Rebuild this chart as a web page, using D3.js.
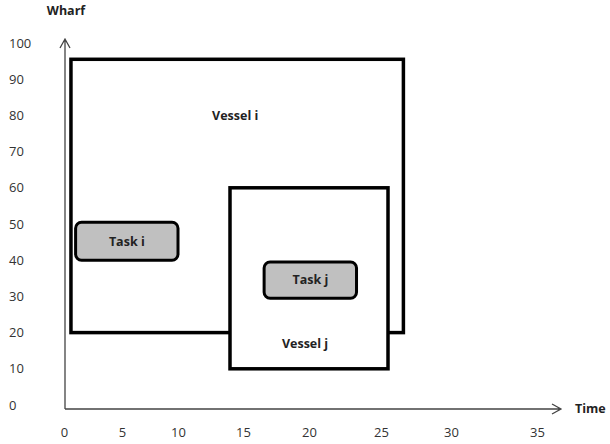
<!DOCTYPE html>
<html>
<head>
<meta charset="utf-8">
<script src="https://cdn.jsdelivr.net/npm/d3@7"></script>
<style>
  body { margin: 0; background: #fff; }
  svg { font-family: "Open Sans", "Liberation Sans", sans-serif; }
</style>
</head>
<body>
<svg id="chart" width="610" height="444"></svg>
<script>
// tick labels on both axes
var xTicks = [0, 5, 10, 15, 20, 25, 30, 35];
var yTicks = [0, 10, 20, 30, 40, 50, 60, 70, 80, 90, 100];

// vessels: time span and wharf span
var vesselNames = ["Vessel i", "Vessel j"];
var vesselTime = [[0.6, 26.6], [14, 25.5]];
var vesselWharf = [[20, 95.5], [10, 60]];
var vesselLabelAt = [[14.4, 80], [19.7, 17]];

// tasks inside the vessels
var taskNames = ["Task i", "Task j"];
var taskTime = [[1, 10], [16.6, 23.3]];
var taskWharf = [[40, 50.5], [29.5, 39.5]];

window.onload = function() {
    var svg = d3.select("#chart");

    // the drawing's time ticks are not evenly spaced, so the scale is piecewise
    var x = d3.scaleLinear()
        .domain(xTicks)
        .range([64, 122, 178, 243, 309, 381, 451, 537]);
    var y = d3.scaleLinear()
        .domain([0, 100])
        .range([405, 43]);

    var x0 = x(0) + 1, y0 = y(0) + 4;

    // x tick labels
    svg.append("g")
        .attr("transform", "translate(0,432)")
        .call(d3.axisBottom(x).tickValues(xTicks).tickSize(0).tickPadding(0))
        .call(function(g) { g.select(".domain").remove(); })
        .selectAll("text")
        .attr("dy", "0.35em")
        .style("font-size", "13px")
        .style("fill", "#333")
        .style("font-family", "Open Sans, sans-serif");

    // y tick labels (left aligned)
    svg.append("g").selectAll("text").data(yTicks)
        .enter().append("text")
        .attr("x", 9)
        .attr("y", function(d) { return y(d); })
        .attr("dy", "0.35em")
        .style("font-size", "13px")
        .style("fill", "#333")
        .text(function(d) { return d; });

    // axis lines with open arrowheads
    var axisCol = "#444";
    svg.append("path")
        .attr("d", "M" + x0 + "," + y0 + "V39M" + (x0 - 5) + ",48L" + x0 + ",39L" + (x0 + 5) + ",48")
        .attr("fill", "none").attr("stroke", axisCol).attr("stroke-width", 1.3);
    svg.append("path")
        .attr("d", "M" + x0 + "," + y0 + "H561M552," + (y0 - 5) + "L561," + y0 + "L552," + (y0 + 5))
        .attr("fill", "none").attr("stroke", axisCol).attr("stroke-width", 1.3);

    svg.append("text")
        .attr("x", 66).attr("y", 15)
        .attr("text-anchor", "middle")
        .style("font-size", "12.5px").style("font-weight", "bold").style("fill", "#222")
        .text("Wharf");
    svg.append("text")
        .attr("x", 575).attr("y", y0 + 4)
        .style("font-size", "12.5px").style("font-weight", "bold").style("fill", "#222")
        .text("Time");

    // vessels
    svg.append("g").selectAll("rect").data(vesselNames)
        .enter().append("rect")
        .attr("x", function(d, i) { return x(vesselTime[i][0]); })
        .attr("y", function(d, i) { return y(vesselWharf[i][1]); })
        .attr("width", function(d, i) { return x(vesselTime[i][1]) - x(vesselTime[i][0]); })
        .attr("height", function(d, i) { return y(vesselWharf[i][0]) - y(vesselWharf[i][1]); })
        .attr("fill", "#fff")
        .attr("stroke", "#000")
        .attr("stroke-width", 3.5);

    svg.append("g").selectAll("text").data(vesselNames)
        .enter().append("text")
        .attr("x", function(d, i) { return x(vesselLabelAt[i][0]); })
        .attr("y", function(d, i) { return y(vesselLabelAt[i][1]); })
        .attr("dy", "0.35em")
        .attr("text-anchor", "middle")
        .style("font-size", "12.5px").style("font-weight", "bold").style("fill", "#222")
        .text(function(d) { return d; });

    // tasks
    svg.append("g").selectAll("rect").data(taskNames)
        .enter().append("rect")
        .attr("x", function(d, i) { return x(taskTime[i][0]); })
        .attr("y", function(d, i) { return y(taskWharf[i][1]); })
        .attr("width", function(d, i) { return x(taskTime[i][1]) - x(taskTime[i][0]); })
        .attr("height", function(d, i) { return y(taskWharf[i][0]) - y(taskWharf[i][1]); })
        .attr("rx", 6).attr("ry", 6)
        .attr("fill", "#c0c0c0")
        .attr("stroke", "#000")
        .attr("stroke-width", 3);

    svg.append("g").selectAll("text").data(taskNames)
        .enter().append("text")
        .attr("x", function(d, i) { return (x(taskTime[i][0]) + x(taskTime[i][1])) / 2; })
        .attr("y", function(d, i) { return y((taskWharf[i][0] + taskWharf[i][1]) / 2); })
        .attr("dy", "0.35em")
        .attr("text-anchor", "middle")
        .style("font-size", "12.5px").style("font-weight", "bold").style("fill", "#222")
        .text(function(d) { return d; });
};
</script>
</body>
</html>
